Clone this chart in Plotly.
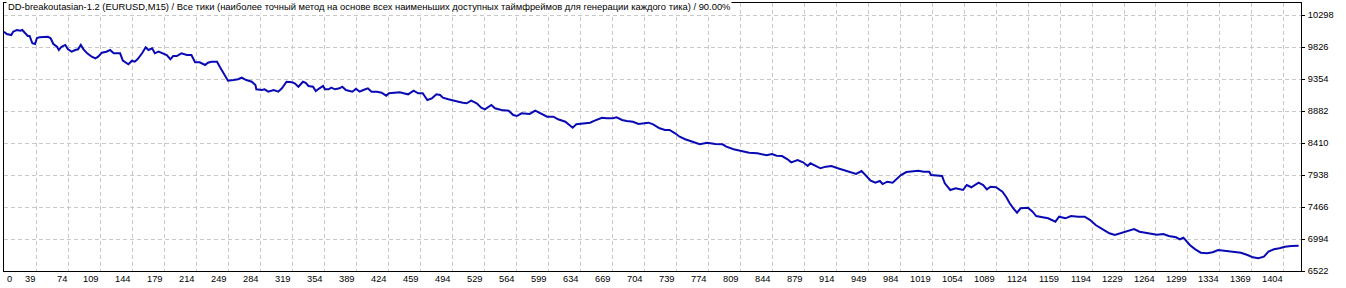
import plotly.graph_objects as go

TITLE = ("DD-breakoutasian-1.2 (EURUSD,M15) / Все тики (наиболее точный метод на основе всех "
         "наименьших доступных таймфреймов для генерации каждого тика) / 90.00%")

TRADES = [4, 7, 12, 14, 18, 22, 24, 27, 30, 32, 35, 38, 40, 43, 49, 52, 55, 58, 62, 64,
          67, 71, 74, 78, 82, 85, 88, 91, 95, 100, 104, 107, 111, 116, 120, 124, 127, 131, 134, 140,
          144, 147, 150, 155, 159, 162, 166, 169, 173, 178, 182, 186, 189, 193, 198, 204, 209, 213, 218, 224,
          227, 231, 237, 240, 244, 249, 255, 260, 264, 269, 275, 279, 280, 286, 289, 293, 299, 304, 308, 313,
          319, 322, 326, 331, 334, 337, 342, 345, 349, 353, 355, 359, 362, 366, 371, 374, 378, 382, 385, 389,
          393, 397, 402, 406, 412, 417, 422, 425, 432, 437, 441, 446, 452, 457, 462, 467, 472, 477, 481, 484,
          490, 495, 501, 506, 510, 515, 521, 526, 530, 537, 541, 548, 556, 561, 565, 570, 576, 579, 585, 590,
          598, 605, 610, 618, 623, 626, 630, 638, 645, 650, 658, 663, 670, 674, 680, 685, 692, 698, 703, 709,
          714, 721, 727, 732, 738, 743, 749, 765, 773, 782, 790, 794, 802, 811, 819, 828, 838, 844, 849, 855,
          861, 865, 872, 878, 883, 886, 890, 897, 903, 909, 916, 922, 928, 932, 936, 942, 947, 952, 957, 962,
          965, 970, 976, 981, 985, 991, 997, 1004, 1010, 1016, 1018, 1025, 1030, 1033, 1039, 1045, 1053, 1057, 1062, 1070,
          1075, 1079, 1083, 1089, 1096, 1100, 1104, 1108, 1112, 1116, 1124, 1129, 1133, 1140, 1146, 1154, 1158, 1165, 1171, 1179,
          1186, 1192, 1198, 1204, 1213, 1219, 1225, 1232, 1240, 1246, 1253, 1259, 1265, 1272, 1278, 1286, 1290, 1294, 1301, 1307,
          1313, 1320, 1326, 1332, 1340, 1349, 1357, 1364, 1370, 1376, 1382, 1387, 1393, 1399, 1405, 1412, 1420]

EQUITY = [10052, 10018, 10003, 10052, 10077, 10066, 10077, 10028, 9988, 9988, 9881, 9870, 9959, 9969, 9969, 9978, 9954, 9870, 9830, 9782,
          9830, 9856, 9792, 9757, 9782, 9792, 9856, 9792, 9733, 9683, 9659, 9683, 9742, 9757, 9782, 9733, 9733, 9733, 9624, 9571,
          9624, 9609, 9645, 9733, 9822, 9782, 9807, 9733, 9757, 9733, 9708, 9645, 9693, 9693, 9733, 9708, 9708, 9600, 9600, 9561,
          9595, 9609, 9609, 9536, 9438, 9329, 9339, 9350, 9373, 9339, 9314, 9266, 9202, 9192, 9202, 9167, 9192, 9167, 9217, 9314,
          9305, 9291, 9240, 9314, 9299, 9251, 9240, 9177, 9217, 9251, 9202, 9202, 9226, 9202, 9217, 9240, 9192, 9181, 9167, 9211,
          9167, 9192, 9217, 9167, 9167, 9152, 9108, 9143, 9152, 9158, 9143, 9128, 9181, 9143, 9143, 9044, 9069, 9128, 9118, 9078,
          9055, 9034, 9019, 9004, 8996, 9034, 8996, 8931, 8907, 8971, 8922, 8897, 8887, 8823, 8808, 8848, 8848, 8838, 8887, 8857,
          8798, 8798, 8760, 8724, 8676, 8636, 8686, 8701, 8710, 8739, 8783, 8775, 8775, 8789, 8749, 8735, 8724, 8690, 8701, 8710,
          8686, 8627, 8602, 8602, 8553, 8503, 8465, 8391, 8414, 8395, 8391, 8356, 8317, 8296, 8267, 8258, 8229, 8248, 8223, 8218,
          8170, 8125, 8159, 8125, 8071, 8111, 8086, 8037, 8061, 8071, 8037, 8012, 7987, 7972, 7953, 7997, 7923, 7854, 7824, 7850,
          7805, 7839, 7824, 7889, 7938, 7982, 7987, 8001, 7987, 7987, 7938, 7923, 7923, 7816, 7717, 7742, 7717, 7790, 7757, 7824,
          7790, 7727, 7765, 7757, 7692, 7618, 7521, 7447, 7382, 7447, 7456, 7397, 7333, 7314, 7299, 7249, 7323, 7299, 7333, 7323,
          7323, 7274, 7200, 7152, 7078, 7053, 7078, 7102, 7141, 7102, 7087, 7068, 7057, 7068, 7038, 7019, 6990, 7013, 6906, 6842,
          6792, 6783, 6798, 6832, 6821, 6798, 6792, 6758, 6724, 6709, 6733, 6807, 6842, 6857, 6880, 6891, 6895]

X_TICKS = [0, 39, 74, 109, 144, 179, 214, 249, 284, 319, 354, 389, 424, 459, 494, 529, 564, 599, 634, 669,
           704, 739, 774, 809, 844, 879, 914, 949, 984, 1019, 1054, 1089, 1124, 1159, 1194, 1229, 1264, 1299, 1334, 1369, 1404]
Y_TICKS = [6522, 6994, 7466, 7938, 8410, 8882, 9354, 9826, 10298]

X_RANGE = [4.0, 1422.6]
Y_RANGE = [6522, 10475]

FONT = "Liberation Sans"
GRID = "#c8c8c8"

fig = go.Figure()
fig.add_trace(go.Scatter(x=TRADES, y=EQUITY, mode="lines",
                         line=dict(color="#0a0ab4", width=2), hoverinfo="skip"))

fig.update_layout(
    width=1346, height=288,
    margin=dict(l=4, r=45, t=3, b=17, pad=0),
    paper_bgcolor="white", plot_bgcolor="white",
    showlegend=False,
    font=dict(family=FONT, size=9, color="black"),
)
fig.update_xaxes(range=X_RANGE, tickvals=X_TICKS[1:], showticklabels=False, ticks="",
                 showgrid=True, gridcolor=GRID, griddash="4px,3px", gridwidth=1,
                 showline=True, linecolor="black", linewidth=1, mirror=True, zeroline=False)
fig.update_yaxes(range=Y_RANGE, side="right", tickvals=Y_TICKS, ticktext=[str(v) for v in Y_TICKS],
                 ticks="outside", ticklen=3, tickcolor="black", tickwidth=1, ticklabelstandoff=1,
                 tickfont=dict(family=FONT, size=9.3, color="black"),
                 showgrid=True, gridcolor=GRID, griddash="4px,3px", gridwidth=1,
                 showline=True, linecolor="black", linewidth=1, mirror=True, zeroline=False)

anns = []
for i, v in enumerate(X_TICKS):
    if i == 0:
        anns.append(dict(x=X_RANGE[0], y=0, xref="x", yref="paper", text=str(v), showarrow=False,
                         xanchor="left", yanchor="top", xshift=1, yshift=-1,
                         font=dict(family=FONT, size=9.3, color="black")))
    else:
        anns.append(dict(x=v, y=0, xref="x", yref="paper", text=str(v), showarrow=False,
                         xanchor="right", yanchor="top", xshift=1, yshift=-1,
                         font=dict(family=FONT, size=9.3, color="black")))
anns.append(dict(x=0, y=1, xref="paper", yref="paper", text=TITLE, showarrow=False,
                 xanchor="left", yanchor="middle", xshift=2, yshift=-3,
                 bgcolor="white", borderpad=1,
                 font=dict(family=FONT, size=9.4, color="black")))
fig.update_layout(annotations=anns)

fig.write_html("out.html")
